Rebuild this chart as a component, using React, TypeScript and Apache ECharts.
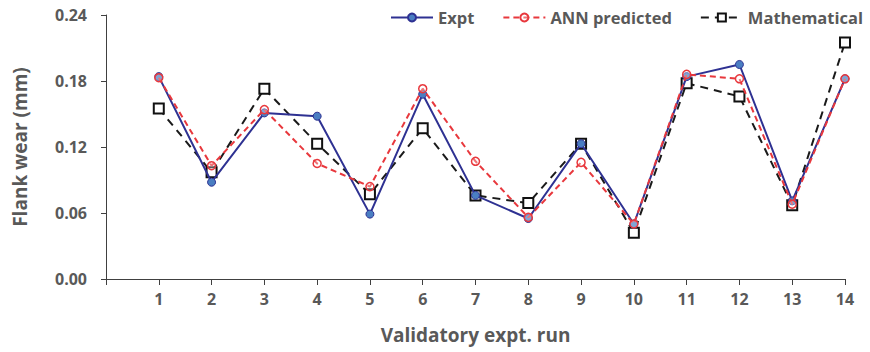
import React, { useEffect, useRef } from "react";
import * as echarts from "echarts";

const runs = [1, 2, 3, 4, 5, 6, 7, 8, 9, 10, 11, 12, 13, 14];
const expt = [0.184, 0.088, 0.151, 0.148, 0.059, 0.168, 0.076, 0.055, 0.123, 0.050, 0.184, 0.195, 0.071, 0.182];
const ann = [0.183, 0.103, 0.154, 0.105, 0.084, 0.173, 0.107, 0.056, 0.106, 0.050, 0.186, 0.182, 0.068, 0.182];
const mathematical = [0.155, 0.097, 0.173, 0.123, 0.077, 0.137, 0.076, 0.069, 0.123, 0.042, 0.178, 0.166, 0.067, 0.215];
const yTicks = [0, 0.06, 0.12, 0.18, 0.24];

const FONT = "'Open Sans', 'Noto Sans', sans-serif";
const GRAY = "#595959";

export default function App() {
  const ref = useRef<HTMLDivElement>(null);
  useEffect(() => {
    document.body.style.margin = "0";
    if (!ref.current) return;
    const chart = echarts.init(ref.current, null, { renderer: "svg" });
    const pairs = (arr: number[]) => runs.map((r, i) => [r, arr[i]]);
    chart.setOption({
      animation: false,
      backgroundColor: "#fff",
      grid: { left: 106, right: 25, top: 15, bottom: 73 },
      legend: {
        top: 4,
        right: 2,
        itemGap: 28,
        itemWidth: 42,
        itemHeight: 10,
        textStyle: { fontFamily: FONT, fontWeight: "bold", fontSize: 16.5, color: GRAY },
        data: ["Expt", "ANN predicted", "Mathematical"],
      },
      xAxis: {
        type: "value",
        min: 0,
        max: 14,
        interval: 1,
        name: "Validatory expt. run",
        nameLocation: "middle",
        nameGap: 46,
        nameTextStyle: { fontFamily: FONT, fontWeight: "bold", fontSize: 19, color: GRAY },
        axisLine: { show: true, lineStyle: { color: "#404040", width: 1 } },
        axisTick: { show: true, length: 6, lineStyle: { color: "#404040" } },
        splitLine: { show: false },
        axisLabel: {
          margin: 12,
          fontFamily: FONT,
          fontWeight: "bold",
          fontSize: 16,
          color: GRAY,
          formatter: (v: number) => (v === 0 ? "" : String(v)),
        },
      },
      yAxis: {
        type: "value",
        min: yTicks[0],
        max: yTicks[yTicks.length - 1],
        interval: 0.06,
        name: "Flank wear (mm)",
        nameLocation: "middle",
        nameGap: 77,
        nameTextStyle: { fontFamily: FONT, fontWeight: "bold", fontSize: 19, color: GRAY },
        axisLine: { show: true, lineStyle: { color: "#404040", width: 1 } },
        axisTick: { show: true, length: 5, lineStyle: { color: "#404040" } },
        splitLine: { show: false },
        axisLabel: {
          margin: 19,
          fontFamily: FONT,
          fontWeight: "bold",
          fontSize: 16,
          color: GRAY,
          formatter: (v: number) => v.toFixed(2),
        },
      },
      series: [
        {
          name: "Expt",
          type: "line",
          data: pairs(expt),
          symbol: "circle",
          symbolSize: 8,
          lineStyle: { color: "#2E3192", width: 2 },
          itemStyle: { color: "#4A7EC2", borderColor: "#2E3192", borderWidth: 1 },
          z: 3,
        },
        {
          name: "ANN predicted",
          type: "line",
          data: pairs(ann),
          symbol: "circle",
          symbolSize: 8,
          lineStyle: { color: "#E8383D", width: 2, type: [6, 4] },
          itemStyle: { color: "rgba(255,255,255,0.3)", borderColor: "#E8383D", borderWidth: 1.5 },
          z: 4,
        },
        {
          name: "Mathematical",
          type: "line",
          data: pairs(mathematical),
          symbol: "rect",
          symbolSize: 10,
          lineStyle: { color: "#1a1a1a", width: 2, type: [8, 6] },
          itemStyle: { color: "#fff", borderColor: "#111", borderWidth: 2 },
          z: 2,
        },
      ],
    });
    return () => chart.dispose();
  }, []);
  return <div ref={ref} style={{ width: 870, height: 352 }} />;
}
